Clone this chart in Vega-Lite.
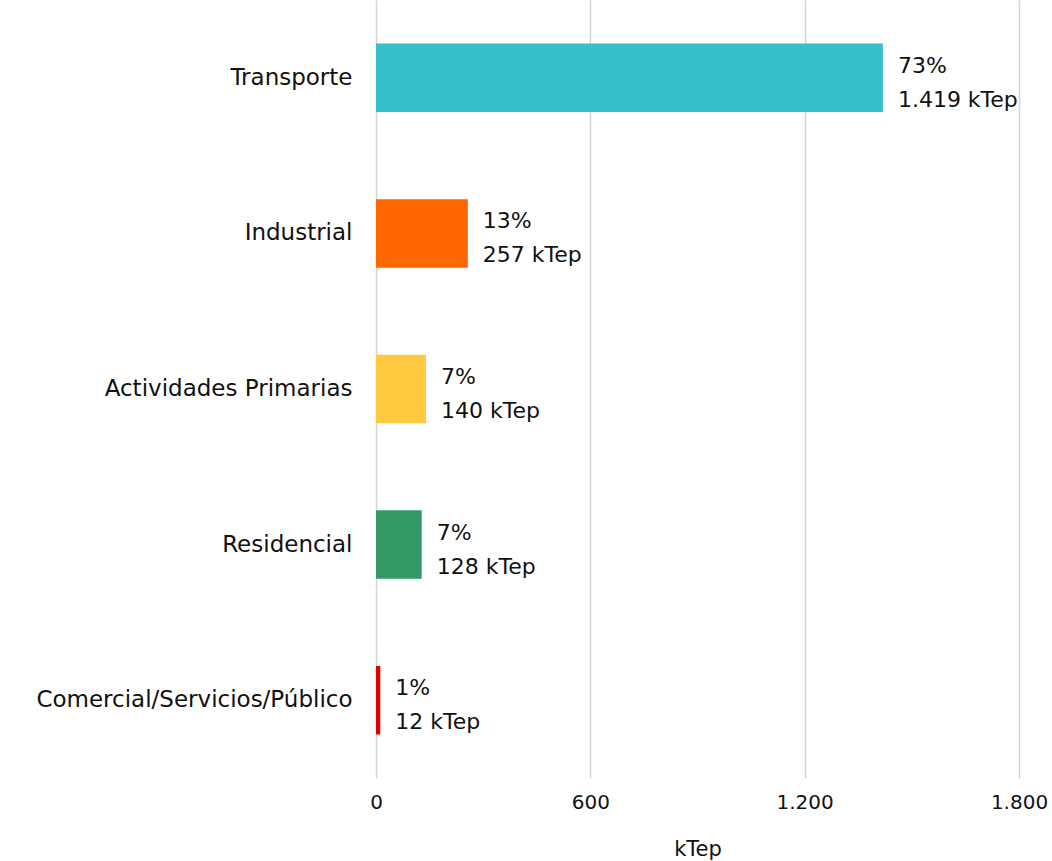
{
  "$schema": "https://vega.github.io/schema/vega-lite/v6.json",
  "width": 643,
  "height": 778,
  "autosize": {"type": "none"},
  "padding": {"left": 376, "top": 0, "right": 33, "bottom": 83},
  "background": "white",
  "config": {
    "view": {"stroke": null},
    "font": "DejaVu Sans",
    "axis": {"labelFont": "DejaVu Sans", "titleFont": "DejaVu Sans", "labelColor": "#111111", "titleColor": "#111111"}
  },
  "data": {
    "values": [
      {"sector": "Transporte", "ktep": 1419, "label": ["73%", "1.419 kTep"]},
      {"sector": "Industrial", "ktep": 257, "label": ["13%", "257 kTep"]},
      {"sector": "Actividades Primarias", "ktep": 140, "label": ["7%", "140 kTep"]},
      {"sector": "Residencial", "ktep": 128, "label": ["7%", "128 kTep"]},
      {"sector": "Comercial/Servicios/Público", "ktep": 12, "label": ["1%", "12 kTep"]}
    ]
  },
  "encoding": {
    "y": {
      "field": "sector",
      "type": "nominal",
      "sort": null,
      "scale": {"paddingInner": 0.56, "paddingOuter": 0.28},
      "axis": {"title": null, "domain": false, "ticks": false, "labelFontSize": 23, "labelPadding": 24, "labelLimit": 400}
    },
    "x": {
      "field": "ktep",
      "type": "quantitative",
      "scale": {"domain": [0, 1800], "nice": false},
      "axis": {
        "title": "kTep",
        "titleFontSize": 21,
        "titleFontWeight": "normal",
        "titlePadding": 26,
        "values": [0, 600, 1200, 1800],
        "labelExpr": "replace(format(datum.value, ','), ',', '.')",
        "labelFontSize": 20,
        "labelPadding": 14,
        "labelFlush": false,
        "labelOverlap": false,
        "domain": false,
        "ticks": false,
        "grid": true,
        "gridColor": "#d4d4d4",
        "gridWidth": 1.5
      }
    }
  },
  "layer": [
    {
      "mark": {"type": "bar"},
      "encoding": {
        "color": {
          "field": "sector",
          "type": "nominal",
          "legend": null,
          "scale": {
            "domain": ["Transporte", "Industrial", "Actividades Primarias", "Residencial", "Comercial/Servicios/Público"],
            "range": ["#34BFCA", "#FF6600", "#FFC940", "#339966", "#E00000"]
          }
        }
      }
    },
    {
      "mark": {"type": "text", "align": "left", "baseline": "middle", "dx": 15, "dy": -12, "fontSize": 22, "lineHeight": 34, "color": "#111111"},
      "encoding": {"text": {"field": "label"}}
    }
  ]
}
